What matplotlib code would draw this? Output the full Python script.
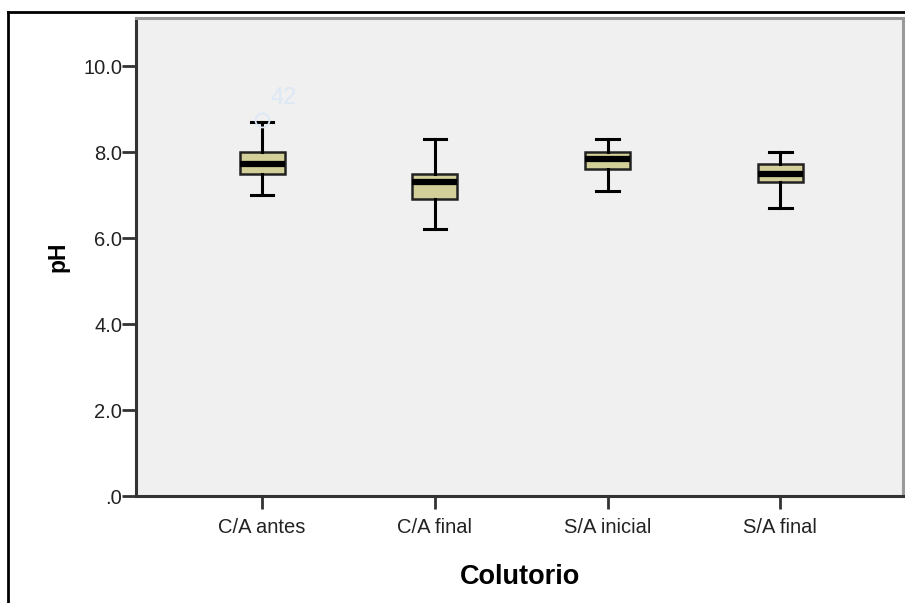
import matplotlib
matplotlib.use("Agg")
import matplotlib.pyplot as plt
from matplotlib.lines import Line2D

plt.rcParams['font.family'] = ['Liberation Sans', 'DejaVu Sans']

categories = ["C/A antes", "C/A final", "S/A inicial", "S/A final"]
whislo = [7.0, 6.2, 7.1, 6.7]
q1 = [7.5, 6.9, 7.6, 7.3]
med = [7.72, 7.3, 7.85, 7.5]
q3 = [8.0, 7.5, 8.0, 7.72]
whishi = [8.7, 8.3, 8.3, 8.0]
outlier_vals = [[8.75], [], [], []]
outlier_labels = [["42"], [], [], []]
yticks = [0, 2, 4, 6, 8, 10]
ytick_labels = [".0", "2.0", "4.0", "6.0", "8.0", "10.0"]

fig = plt.figure(figsize=(9.05, 6.03), dpi=100)
ax = fig.add_axes([136/905, 1-496/603, (903-136)/905, (496-18)/603])
ax.set_facecolor("#F0F0F0")

stats = []
for i, c in enumerate(categories):
    stats.append(dict(label=c, whislo=whislo[i], q1=q1[i], med=med[i],
                      q3=q3[i], whishi=whishi[i], fliers=[]))
pos = list(range(1, len(categories)+1))
ax.bxp(stats, positions=pos, widths=0.26, patch_artist=True,
       showfliers=False,
       boxprops=dict(facecolor="#D3CF99", edgecolor="#222222", linewidth=1.8),
       medianprops=dict(color="black", linewidth=4.5, solid_capstyle="butt"),
       whiskerprops=dict(color="black", linewidth=2.2),
       capprops=dict(color="black", linewidth=2.2),
       capwidths=0.13)

for i, vals in enumerate(outlier_vals):
    for v, lab in zip(vals, outlier_labels[i]):
        ax.plot([pos[i]], [v], marker="o", markersize=10, markerfacecolor="none",
                markeredgecolor="#DCE8F5", markeredgewidth=1.3, zorder=5)
        ax.text(pos[i]+0.05, v+0.5, lab, color="#DCE8F5", fontsize=17,
                ha="left", va="center")

ax.set_xlim(0.27, 4.71)
ax.set_ylim(0, 11.12)
ax.set_yticks(yticks)
ax.set_yticklabels(ytick_labels)
ax.set_xticks(pos)
ax.set_xticklabels(categories)
ax.tick_params(axis="y", direction="out", length=10, width=2, color="#333333",
               labelsize=14.5, labelcolor="#222222", pad=0)
ax.tick_params(axis="x", direction="out", length=9.5, width=2, color="#333333",
               labelsize=14.5, labelcolor="#222222", pad=6)

for s in ["left", "bottom"]:
    ax.spines[s].set_color("#333333")
    ax.spines[s].set_linewidth(2.2)
for s in ["top", "right"]:
    ax.spines[s].set_color("#999999")
    ax.spines[s].set_linewidth(2.2)

ax.set_xlabel("Colutorio", fontsize=19.5, fontweight="bold", labelpad=20)
ax.set_ylabel("pH", fontsize=16.5, fontweight="bold", labelpad=10)

# outer frame (top and left border)
fig.add_artist(Line2D([8/905, 8/905], [0, 1-12/603], transform=fig.transFigure,
                      color="black", linewidth=2))
fig.add_artist(Line2D([8/905, 1], [1-12/603, 1-12/603], transform=fig.transFigure,
                      color="black", linewidth=2))

fig.savefig("out.png", dpi=100)
